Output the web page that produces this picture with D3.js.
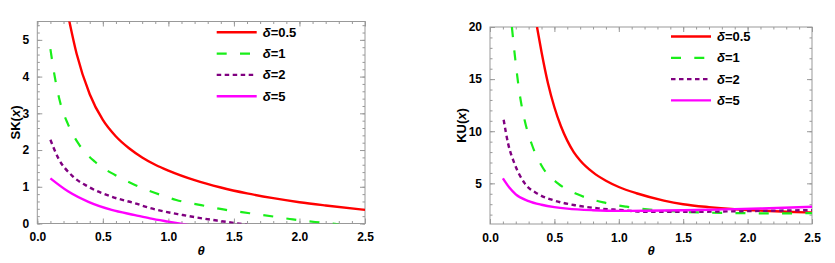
<!DOCTYPE html>
<head>
    <style>
        body { margin: 0; background: #fff; }
        svg { display: block; font-family: "Liberation Sans", Arial, sans-serif; }
        .frame { fill: none; stroke: #999; stroke-width: 1; }
        .tick line { stroke: #999; }
        .tick text { font-size: 12px; font-weight: bold; fill: #000; }
        .domain { display: none; }
        .legend text { font-size: 13px; font-weight: bold; }
        .title { font-size: 13px; font-weight: bold; }
    </style>
</head>
<body>
    <script src="https://cdn.jsdelivr.net/npm/d3@7"></script>
    <script>
        // legend labels and tick values
        var deltaLabels = ['0.5', '1', '2', '5'];
        var xTicks = [0, 0.5, 1, 1.5, 2, 2.5];
        var skTicks = [0, 1, 2, 3, 4, 5];
        var kuTicks = [5, 10, 15, 20];

        // SK(x) curves
        var skTheta05 = [0.24, 0.3, 0.4, 0.5, 0.6, 0.7, 0.8, 0.9, 1.0, 1.2, 1.4, 1.6, 1.8, 2.0, 2.2, 2.5];
        var skVal05   = [5.58, 4.62, 3.52, 2.82, 2.37, 2.05, 1.8, 1.6, 1.44, 1.18, 0.98, 0.82, 0.69, 0.58, 0.49, 0.37];
        var skTheta1  = [0.1, 0.135, 0.173, 0.237, 0.313, 0.44, 0.593, 0.745, 0.9, 1.06, 1.25, 1.44, 1.62, 1.8, 1.95, 2.12, 2.3];
        var skVal1    = [4.75, 3.96, 3.32, 2.68, 2.18, 1.68, 1.32, 1.05, 0.83, 0.64, 0.5, 0.37, 0.28, 0.19, 0.11, 0.04, -0.02];
        var skTheta2  = [0.1, 0.16, 0.26, 0.39, 0.567, 0.745, 0.86, 1.11, 1.37, 1.6];
        var skVal2    = [2.28, 1.78, 1.32, 1.0, 0.73, 0.55, 0.42, 0.23, 0.08, -0.03];
        var skTheta5  = [0.1, 0.237, 0.39, 0.567, 0.745, 0.86, 1.0, 1.15];
        var skVal5    = [1.23, 0.87, 0.59, 0.37, 0.23, 0.14, 0.05, -0.04];

        // KU(x) curves
        var kuTheta05 = [0.365, 0.4, 0.45, 0.5, 0.55, 0.6, 0.65, 0.7, 0.8, 0.9, 1.0, 1.137, 1.35, 1.5, 1.7, 1.9, 2.1, 2.3, 2.5];
        var kuVal05   = [20, 17.6, 14.6, 12.3, 10.5, 9.1, 8.0, 7.2, 6.05, 5.25, 4.65, 4.05, 3.35, 3.0, 2.72, 2.52, 2.38, 2.28, 2.2];
        var kuTheta1  = [0.17, 0.19, 0.23, 0.27, 0.323, 0.41, 0.527, 0.68, 0.88, 1.06, 1.24, 1.45, 1.65, 1.9, 2.2, 2.5];
        var kuVal1    = [20, 17.6, 13.6, 11.0, 8.8, 6.5, 5.0, 3.95, 3.17, 2.76, 2.48, 2.3, 2.2, 2.15, 2.12, 2.15];
        var kuTheta2  = [0.106, 0.14, 0.19, 0.27, 0.37, 0.5, 0.66, 0.84, 1.0, 1.2, 1.5, 1.8, 2.1, 2.5];
        var kuVal2    = [11.1, 8.85, 6.9, 5.0, 4.0, 3.35, 2.9, 2.6, 2.45, 2.28, 2.26, 2.3, 2.36, 2.43];
        var kuTheta5  = [0.1, 0.15, 0.2, 0.3, 0.4, 0.5, 0.6, 0.8, 1.0, 1.2, 1.5, 1.8, 2.1, 2.5];
        var kuVal5    = [5.48, 4.6, 3.95, 3.3, 2.95, 2.72, 2.57, 2.42, 2.36, 2.37, 2.42, 2.5, 2.58, 2.75];

        var styles = [
            { color: '#ff0000', width: 2.4, dash: null },
            { color: '#19ee19', width: 2.2, dash: '10,13.3' },
            { color: '#800080', width: 2.4, dash: '4.5,3.5' },
            { color: '#ff00ff', width: 2.4, dash: null }
        ];

        var zip = (xs, ys) => xs.map((x, i) => [x, ys[i]]);

        var svg = d3.select('body')
                    .append('svg')
                    .attr('width', 835)
                    .attr('height', 263);

        function panel(cfg) {
            var x = d3.scaleLinear().domain([0, 2.5]).range([cfg.left, cfg.right]);
            var y = d3.scaleLinear().domain(cfg.yDomain).range([cfg.bottom, cfg.top]);
            var g = svg.append('g');

            g.append('clipPath').attr('id', cfg.id)
             .append('rect')
             .attr('x', cfg.left).attr('y', cfg.top)
             .attr('width', cfg.right - cfg.left).attr('height', cfg.bottom - cfg.top);

            // minor ticks on all four sides
            var xMinor = d3.range(0, 2.5001, 0.1);
            var yMinor = d3.range(cfg.minorStart, cfg.yDomain[1] + 1e-6, cfg.minorStep);
            g.append('g').attr('transform', 'translate(0,' + cfg.bottom + ')')
             .call(d3.axisBottom(x).tickValues(xMinor).tickSize(-2.5).tickFormat(''));
            g.append('g').attr('transform', 'translate(0,' + cfg.top + ')')
             .call(d3.axisTop(x).tickValues(xMinor).tickSize(-2.5).tickFormat(''));
            g.append('g').attr('transform', 'translate(' + cfg.left + ',0)')
             .call(d3.axisLeft(y).tickValues(yMinor).tickSize(-2.5).tickFormat(''));
            g.append('g').attr('transform', 'translate(' + cfg.right + ',0)')
             .call(d3.axisRight(y).tickValues(yMinor).tickSize(-2.5).tickFormat(''));

            // major ticks with labels
            g.append('g').attr('transform', 'translate(0,' + cfg.bottom + ')')
             .call(d3.axisBottom(x).tickValues(xTicks).tickSize(-5).tickPadding(9).tickFormat(d3.format('.1f')));
            g.append('g').attr('transform', 'translate(0,' + cfg.top + ')')
             .call(d3.axisTop(x).tickValues(xTicks).tickSize(-5).tickFormat(''));
            g.append('g').attr('transform', 'translate(' + cfg.left + ',0)')
             .call(d3.axisLeft(y).tickValues(cfg.yTicks).tickSize(-5).tickPadding(8).tickFormat(d3.format('d')));
            g.append('g').attr('transform', 'translate(' + cfg.right + ',0)')
             .call(d3.axisRight(y).tickValues(cfg.yTicks).tickSize(-5).tickFormat(''));

            g.append('rect').attr('class', 'frame')
             .attr('x', cfg.left).attr('y', cfg.top)
             .attr('width', cfg.right - cfg.left).attr('height', cfg.bottom - cfg.top);

            var line = d3.line()
                         .x(d => x(d[0]))
                         .y(d => y(d[1]))
                         .curve(d3.curveMonotoneX);

            g.append('g').attr('clip-path', 'url(#' + cfg.id + ')')
             .selectAll('path')
             .data(cfg.series)
             .enter()
             .append('path')
             .attr('d', d => line(d))
             .attr('fill', 'none')
             .attr('stroke', (d, i) => styles[i].color)
             .attr('stroke-width', (d, i) => styles[i].width)
             .attr('stroke-dasharray', (d, i) => styles[i].dash);

            // legend
            var leg = g.append('g').attr('class', 'legend');
            deltaLabels.forEach(function(lab, i) {
                var ly = cfg.legY + i * 21.3;
                leg.append('line')
                   .attr('x1', cfg.legX).attr('x2', cfg.legX + 40)
                   .attr('y1', ly).attr('y2', ly)
                   .attr('stroke', styles[i].color)
                   .attr('stroke-width', styles[i].width)
                   .attr('stroke-dasharray', styles[i].dash);
                var t = leg.append('text')
                           .attr('x', cfg.legX + 46).attr('y', ly + 4.5);
                t.append('tspan').attr('font-style', 'italic').text('δ');
                t.append('tspan').text('=' + lab);
            });

            // axis titles
            var cy = (cfg.top + cfg.bottom) / 2;
            var yt = g.append('text').attr('class', 'title')
                      .attr('transform', 'translate(' + cfg.yTitleX + ',' + cy + ') rotate(-90)')
                      .attr('text-anchor', 'middle');
            yt.append('tspan').text(cfg.yName + '(');
            yt.append('tspan').attr('font-style', 'italic').text('x');
            yt.append('tspan').text(')');

            g.append('text').attr('class', 'title')
             .attr('x', (cfg.left + cfg.right) / 2).attr('y', 255)
             .attr('text-anchor', 'middle')
             .attr('font-style', 'italic')
             .text('θ');
        }

        panel({
            id: 'clipSK', left: 37.3, right: 365, top: 21.5, bottom: 223.5,
            yDomain: [0, 5.5], yTicks: skTicks, minorStart: 0, minorStep: 0.2,
            yName: 'SK', yTitleX: 19.5, legX: 216.7, legY: 32.3,
            series: [zip(skTheta05, skVal05), zip(skTheta1, skVal1), zip(skTheta2, skVal2), zip(skTheta5, skVal5)]
        });

        panel({
            id: 'clipKU', left: 490, right: 812, top: 27, bottom: 224,
            yDomain: [1.1, 20], yTicks: kuTicks, minorStart: 2, minorStep: 1,
            yName: 'KU', yTitleX: 466, legX: 671, legY: 36.5,
            series: [zip(kuTheta05, kuVal05), zip(kuTheta1, kuVal1), zip(kuTheta2, kuVal2), zip(kuTheta5, kuVal5)]
        });
    </script>
</body>
